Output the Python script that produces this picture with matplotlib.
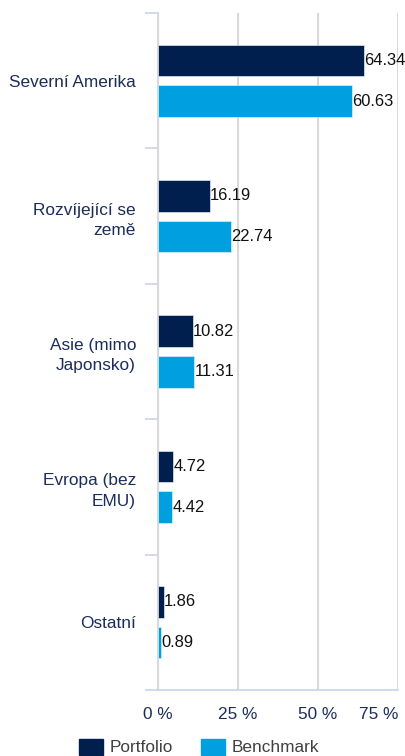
import numpy as np
import matplotlib.pyplot as plt
from matplotlib.patches import Patch

plt.rcParams['font.family'] = ['Liberation Sans', 'DejaVu Sans']

# data
regions = ['Severní Amerika', 'Rozvíjející se\nzemě', 'Asie (mimo\nJaponsko)',
           'Evropa (bez\nEMU)', 'Ostatní']
portfolio = [64.34, 16.19, 10.82, 4.72, 1.86]
benchmark = [60.63, 22.74, 11.31, 4.42, 0.89]
xticks = [0, 25, 50, 75]
xtick_labels = ['0 %', '25 %', '50 %', '75 %']

c_port = '#001f4e'
c_bench = '#009fdf'
navy = '#1c2c5b'
grid_c = '#d9d9d9'
tick_c = '#c9d3ea'
fs = 12.4

fig = plt.figure(figsize=(4.06, 7.56), dpi=100)
ax = fig.add_axes([158/406, 1-690/756, 240/406, 677/756])

y = np.arange(len(regions))
h = 0.234
off = 0.15
ax.barh(y - off, portfolio, height=h, color=c_port, edgecolor='#dfe6f0', linewidth=0.5, zorder=3)
ax.barh(y + off, benchmark, height=h, color=c_bench, edgecolor='#d8f0fa', linewidth=0.5, zorder=3)

# value labels, slightly smaller so the top one stays inside the figure
for i in range(len(regions)):
    ax.annotate('%.2f' % portfolio[i], (portfolio[i], y[i] - off), xytext=(0.2, 0),
                textcoords='offset points', va='center', ha='left',
                fontsize=11.9, color='#111111', zorder=4, annotation_clip=False)
    ax.annotate('%.2f' % benchmark[i], (benchmark[i], y[i] + off), xytext=(0.2, 0),
                textcoords='offset points', va='center', ha='left',
                fontsize=11.9, color='#111111', zorder=4, annotation_clip=False)

ax.set_xlim(0, 75)
ax.set_ylim(len(regions) - 0.5, -0.5)

ax.set_yticks(y)
ax.set_yticklabels(regions, fontsize=fs, color=navy, ha='right', multialignment='right')
for t in ax.get_yticklabels():
    t.set_linespacing(1.45)
ax.set_yticks(np.arange(len(regions) + 1) - 0.5, minor=True)
ax.tick_params(axis='y', which='major', length=0, pad=15.8)
ax.tick_params(axis='y', which='minor', length=9.5, width=1.2, color=tick_c)

ax.set_xticks(xticks)
ax.set_xticklabels(xtick_labels, fontsize=fs, color=navy)
ax.tick_params(axis='x', length=0, pad=12)
ax.get_xticklabels()[-1].set_ha('right')

ax.grid(axis='x', color=grid_c, linewidth=1.5, zorder=0)
for s in ['top', 'right']:
    ax.spines[s].set_visible(False)
ax.spines['left'].set_color(grid_c)
ax.spines['left'].set_linewidth(1.5)
ax.spines['bottom'].set_color(tick_c)
ax.spines['bottom'].set_linewidth(1.2)

handles = [Patch(color=c_port, label='Portfolio'), Patch(color=c_bench, label='Benchmark')]
leg = fig.legend(handles=handles, loc='center', bbox_to_anchor=(199/406, 1-747/756),
                 ncol=2, frameon=False, fontsize=fs, handlelength=1.4, handleheight=1.05,
                 handletextpad=0.4, columnspacing=1.6, borderpad=0)
for t in leg.get_texts():
    t.set_color('#404040')

plt.savefig('out.png', dpi=100)
